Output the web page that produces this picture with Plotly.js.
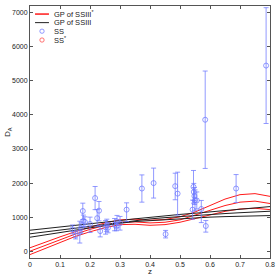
<!DOCTYPE html>
<html>
<head>
<meta charset="utf-8">
<script src="https://cdn.plot.ly/plotly-3.0.1.min.js"></script>
<style>html,body{margin:0;padding:0;background:#fff;}#chart{width:277px;height:276px;}</style>
</head>
<body>
<div id="chart"></div>
<script>
// Observed angular diameter distances (SS)
var ssZ     = [0.142,0.152,0.166,0.170,0.176,0.178,0.183,0.200,0.217,0.224,0.230,0.234,0.252,0.256,0.260,0.282,0.288,0.290,0.300,0.322,0.373,0.412,0.452,0.484,0.492,0.542,0.545,0.546,0.548,0.550,0.556,0.571,0.584,0.586,0.687,0.787];
var ssD     = [640,460,560,680,1180,890,860,800,1560,970,1190,590,700,760,690,780,720,870,820,1220,1840,2000,500,1910,1690,1220,1890,1740,1620,1500,1490,1240,3860,740,1840,5450];
var ssErrUp = [130,130,320,150,230,170,150,200,340,250,270,170,200,180,150,180,120,180,200,200,400,440,110,380,630,280,480,250,250,300,250,250,1430,160,410,1700];
var ssErrDn = [130,100,320,150,250,170,150,250,340,250,300,170,200,180,150,180,120,180,200,350,400,440,110,400,630,280,480,250,250,300,250,400,1430,180,410,1700];

// GP reconstruction of SSIII* (red): mean and +/- 1 sigma
var gpZ       = [0,0.05,0.1,0.15,0.2,0.25,0.3,0.35,0.4,0.45,0.5,0.55,0.6,0.65,0.7,0.75,0.8];
var gpStarHi  = [100,270,420,570,710,830,920,940,910,930,1010,1150,1340,1530,1660,1690,1610];
var gpStarMid = [0,170,330,500,640,760,850,860,830,850,920,1050,1200,1340,1440,1470,1400];
var gpStarLo  = [-100,70,250,430,570,690,780,790,760,780,850,960,1070,1170,1240,1260,1220];

// GP reconstruction of SSIII (black): mean and +/- 1 sigma
var gpHi  = [616,660,705,750,800,850,900,950,997,1040,1080,1115,1150,1190,1230,1270,1310];
var gpMid = [510,565,620,670,720,790,850,900,948,985,1020,1050,1080,1105,1130,1150,1173];
var gpLo  = [410,480,550,620,690,760,820,870,900,930,960,985,1000,1015,1025,1035,1046];

// Legend labels
var legendLabels = ['GP of SSIII<sup>*</sup>', 'GP of SSIII', 'SS', 'SS<sup>*</sup>'];

var red = '#ff1a1a', black = '#202020', blue = 'rgba(110,120,255,0.75)', redMk = 'rgba(255,90,90,0.85)';
var font = 'Liberation Sans, Arial, sans-serif';

var traces = [
  {x: gpZ, y: gpStarMid, mode: 'lines', line: {color: red, width: 1}, name: legendLabels[0]},
  {x: gpZ, y: gpStarHi, mode: 'lines', line: {color: red, width: 1}, name: legendLabels[0]},
  {x: gpZ, y: gpStarLo, mode: 'lines', line: {color: red, width: 1}, name: legendLabels[0]},
  {x: gpZ, y: gpMid, mode: 'lines', line: {color: black, width: 1}, name: legendLabels[1]},
  {x: gpZ, y: gpHi, mode: 'lines', line: {color: black, width: 1}, name: legendLabels[1]},
  {x: gpZ, y: gpLo, mode: 'lines', line: {color: black, width: 1}, name: legendLabels[1]},
  {x: ssZ, y: ssD, mode: 'markers', name: legendLabels[2],
   marker: {symbol: 'circle-open', size: 5, color: blue, line: {width: 1}},
   error_y: {type: 'data', symmetric: false, array: ssErrUp, arrayminus: ssErrDn, color: blue, thickness: 1, width: 2.5}}
];

// compact legend drawn in paper coordinates
var rowY = [0.968, 0.934, 0.900, 0.865];
var shapes = [
  {type: 'line', xref: 'paper', yref: 'paper', x0: 0.021, x1: 0.079, y0: rowY[0], y1: rowY[0], line: {color: red, width: 1.5}},
  {type: 'line', xref: 'paper', yref: 'paper', x0: 0.021, x1: 0.079, y0: rowY[1], y1: rowY[1], line: {color: black, width: 1}},
  {type: 'circle', xref: 'paper', yref: 'paper', x0: 0.041, x1: 0.059, y0: rowY[2] - 0.0085, y1: rowY[2] + 0.0085, line: {color: blue, width: 1}},
  {type: 'circle', xref: 'paper', yref: 'paper', x0: 0.041, x1: 0.059, y0: rowY[3] - 0.0085, y1: rowY[3] + 0.0085, line: {color: redMk, width: 1}}
];
var annotations = legendLabels.map(function (t, i) {
  return {xref: 'paper', yref: 'paper', x: 0.09, y: rowY[i], xanchor: 'left', yanchor: 'middle',
          text: t, showarrow: false, font: {family: font, size: 7.5, color: '#222'}};
});
annotations.push({xref: 'paper', yref: 'paper', x: -0.092, y: 0.5, xanchor: 'center', yanchor: 'middle',
                  text: 'D<sub>A</sub>', textangle: -90, showarrow: false, font: {family: font, size: 8, color: '#222'}});

var axisCommon = {
  showgrid: false, zeroline: false, showline: true, linecolor: '#555', linewidth: 1,
  mirror: 'ticks', ticks: 'inside', ticklen: 3, tickcolor: '#555',
  tickfont: {family: font, size: 7, color: '#222'}
};

var layout = {
  width: 277, height: 276,
  margin: {l: 30, r: 7, t: 6, b: 18},
  paper_bgcolor: '#fff', plot_bgcolor: '#fff',
  showlegend: false,
  shapes: shapes,
  annotations: annotations,
  xaxis: Object.assign({}, axisCommon, {range: [0, 0.8], dtick: 0.1,
           title: {text: 'z', standoff: 2, font: {family: font, size: 8, color: '#222'}}}),
  yaxis: Object.assign({}, axisCommon, {range: [-200, 7200], dtick: 1000})
};

Plotly.newPlot('chart', traces, layout, {displayModeBar: false, staticPlot: true});
</script>
</body>
</html>
